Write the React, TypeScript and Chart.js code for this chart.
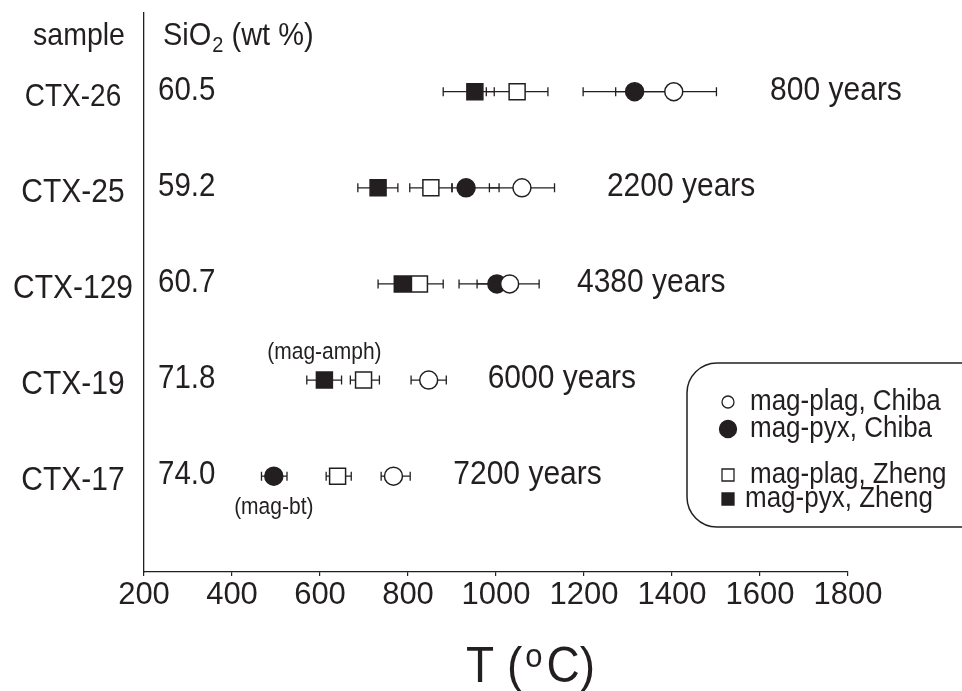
import { useEffect, useRef } from 'react';
import { Chart, registerables } from 'chart.js';

Chart.register(...registerables);

const INK = '#231f20';
const FONT = '"Liberation Sans", Arial, Helvetica, sans-serif';
// lettering in this figure is set slightly tall
const TALL = 1.1;

// Samples, whole-rock silica and ages
const samples = ['CTX-26', 'CTX-25', 'CTX-129', 'CTX-19', 'CTX-17'];
const sio2 = ['60.5', '59.2', '60.7', '71.8', '74.0'];
const ages = ['800 years', '2200 years', '4380 years', '6000 years', '7200 years'];
// temperature (°C) at which each age label starts
const ageLabelAt = [1623, 1252, 1184, 981, 903];

const tempTicks = [200, 400, 600, 800, 1000, 1200, 1400, 1600, 1800];

// mag-plag, Chiba
const plagChiba = [1404, 1059, 1031, 847, 767];
const plagChibaLow = [1272, 985, 957, 807, 739];
const plagChibaHigh = [1501, 1133, 1098, 887, 805];

// mag-pyx, Chiba (CTX-17: mag-bt)
const pyxChiba = [1315, 932, 1002, null, 495];
const pyxChibaLow = [1198, 900, 916, null, 467];
const pyxChibaHigh = [1400, 1007, 1045, null, 525];

// mag-plag, Zheng
const plagZheng = [1048, 852, 826, 699, 640];
const plagZhengLow = [978, 804, 780, 669, 614];
const plagZhengHigh = [1118, 900, 880, 735, 671];

// mag-pyx, Zheng (CTX-19: mag-amph)
const pyxZheng = [952, 732, 787, 610, null];
const pyxZhengLow = [880, 686, 732, 570, null];
const pyxZhengHigh = [996, 777, 830, 649, null];

type Series = {
  label: string;
  values: (number | null)[];
  low: (number | null)[];
  high: (number | null)[];
  shape: 'circle' | 'rect';
  filled: boolean;
};

const series: Series[] = [
  { label: 'mag-plag, Chiba', values: plagChiba, low: plagChibaLow, high: plagChibaHigh, shape: 'circle', filled: false },
  { label: 'mag-pyx, Chiba', values: pyxChiba, low: pyxChibaLow, high: pyxChibaHigh, shape: 'circle', filled: true },
  { label: 'mag-plag, Zheng', values: plagZheng, low: plagZhengLow, high: plagZhengHigh, shape: 'rect', filled: false },
  { label: 'mag-pyx, Zheng', values: pyxZheng, low: pyxZhengLow, high: pyxZhengHigh, shape: 'rect', filled: true },
];

// thermometer notes attached to single points
const notes = [
  { series: 3, row: 3, text: '(mag-amph)', above: true },
  { series: 1, row: 4, text: '(mag-bt)', above: false },
];

function text(
  ctx: CanvasRenderingContext2D,
  s: string,
  x: number,
  y: number,
  size: number,
  align: CanvasTextAlign = 'left',
) {
  ctx.save();
  ctx.font = `${size}px ${FONT}`;
  ctx.textAlign = align;
  ctx.textBaseline = 'alphabetic';
  ctx.fillStyle = INK;
  ctx.translate(x, y);
  ctx.scale(1, TALL);
  ctx.fillText(s, 0, 0);
  const w = ctx.measureText(s).width;
  ctx.restore();
  return w;
}

const errorBars = {
  id: 'errorBars',
  beforeDatasetsDraw(chart: any) {
    const { ctx, scales } = chart;
    const { x, y } = scales;
    ctx.save();
    ctx.strokeStyle = INK;
    ctx.lineWidth = 1.3;
    series.forEach((s) =>
      s.values.forEach((v, i) => {
        if (v == null) return;
        const x0 = x.getPixelForValue(s.low[i]);
        const x1 = x.getPixelForValue(s.high[i]);
        const py = y.getPixelForValue(i);
        ctx.beginPath();
        ctx.moveTo(x0, py);
        ctx.lineTo(x1, py);
        ctx.moveTo(x0, py - 4.5);
        ctx.lineTo(x0, py + 4.5);
        ctx.moveTo(x1, py - 4.5);
        ctx.lineTo(x1, py + 4.5);
        ctx.stroke();
      }),
    );
    ctx.restore();
  },
};

const annotations = {
  id: 'annotations',
  afterDraw(chart: any) {
    const { ctx, scales } = chart;
    const { x, y } = scales;
    ctx.save();

    // column headers
    text(ctx, 'sample', 79, 45, 28.5, 'center');
    let hx = 163;
    hx += text(ctx, 'SiO', hx, 45, 29);
    hx += text(ctx, '2', hx + 1, 52, 20) + 1;
    text(ctx, ' (wt %)', hx, 45, 29);

    samples.forEach((name, i) => {
      const py = y.getPixelForValue(i);
      text(ctx, name, 73, py + 14, i === 0 ? 28 : 30, 'center');
      text(ctx, sio2[i], 158, py + 8, 29.5);
      text(ctx, ages[i], x.getPixelForValue(ageLabelAt[i]), py + 8, 30);
    });

    notes.forEach((n) => {
      const v = series[n.series].values[n.row] as number;
      const px = x.getPixelForValue(v);
      const py = y.getPixelForValue(n.row);
      text(ctx, n.text, px, n.above ? py - 21 : py + 38, 21, 'center');
    });

    // axis title T (°C)
    let tx = 466;
    tx += text(ctx, 'T (', tx, 682, 46);
    tx += text(ctx, 'o', tx + 3, 667, 31) + 7;
    text(ctx, 'C)', tx, 682, 46);

    // legend
    ctx.beginPath();
    ctx.lineWidth = 1.5;
    ctx.strokeStyle = INK;
    (ctx as any).roundRect(687, 363, 320, 164, 30);
    ctx.stroke();

    const rowsY = [410, 437, 483, 507];
    series.forEach((s, i) => {
      const ly = rowsY[i];
      const cx = 728;
      const cy = ly - 8;
      ctx.beginPath();
      if (s.shape === 'circle') {
        ctx.arc(cx, cy, s.filled ? 8.5 : 6, 0, Math.PI * 2);
      } else {
        ctx.rect(cx - 6, cy - 6, 12, 12);
      }
      ctx.fillStyle = s.filled ? INK : '#ffffff';
      ctx.fill();
      ctx.lineWidth = 1.3;
      ctx.stroke();
      text(ctx, s.label, s.filled && s.shape === 'rect' ? 745 : 750, ly, 26);
    });

    ctx.restore();
  },
};

export default function App() {
  const ref = useRef<HTMLCanvasElement | null>(null);

  useEffect(() => {
    if (!ref.current) return;
    const datasets = series.map((s) => ({
      label: s.label,
      data: s.values
        .map((v, i) => (v == null ? null : { x: v, y: i }))
        .filter((p) => p !== null),
      pointStyle: s.shape,
      pointRadius: s.shape === 'circle' ? 9 : 11.3,
      pointBackgroundColor: s.filled ? INK : '#ffffff',
      pointBorderColor: INK,
      pointBorderWidth: 1.5,
      showLine: false,
    }));

    const chart = new Chart(ref.current, {
      type: 'scatter',
      data: { datasets: datasets as any },
      options: {
        responsive: false,
        animation: false,
        events: [],
        layout: { padding: { left: 144, right: 114, top: 12, bottom: 0 } },
        plugins: {
          legend: { display: false },
          tooltip: { enabled: false },
        },
        scales: {
          x: {
            type: 'linear',
            min: tempTicks[0],
            max: tempTicks[tempTicks.length - 1],
            afterBuildTicks: (scale: any) => {
              scale.ticks = tempTicks.map((v) => ({ value: v }));
            },
            afterFit: (scale: any) => {
              scale.height = 119;
            },
            ticks: {
              font: { family: FONT, size: 31 },
              color: INK,
              padding: 1,
              maxRotation: 0,
              autoSkip: false,
              callback: (v: any) => String(v),
            },
            grid: {
              display: true,
              drawOnChartArea: false,
              drawTicks: true,
              tickLength: 4,
              color: INK,
              lineWidth: 1.2,
            },
            border: { display: true, color: INK, width: 1.3 },
          },
          y: {
            type: 'linear',
            reverse: true,
            min: -0.821,
            max: 4.997,
            ticks: { display: false },
            grid: { display: false },
            border: { display: true, color: INK, width: 1.3 },
            afterFit: (scale: any) => {
              scale.width = 0;
            },
          },
        },
      },
      plugins: [errorBars, annotations],
    });

    return () => chart.destroy();
  }, []);

  return (
    <div style={{ position: 'fixed', left: 0, top: 0, width: 962, height: 691, background: '#ffffff' }}>
      <canvas ref={ref} width={962} height={691} style={{ display: 'block' }} />
    </div>
  );
}
